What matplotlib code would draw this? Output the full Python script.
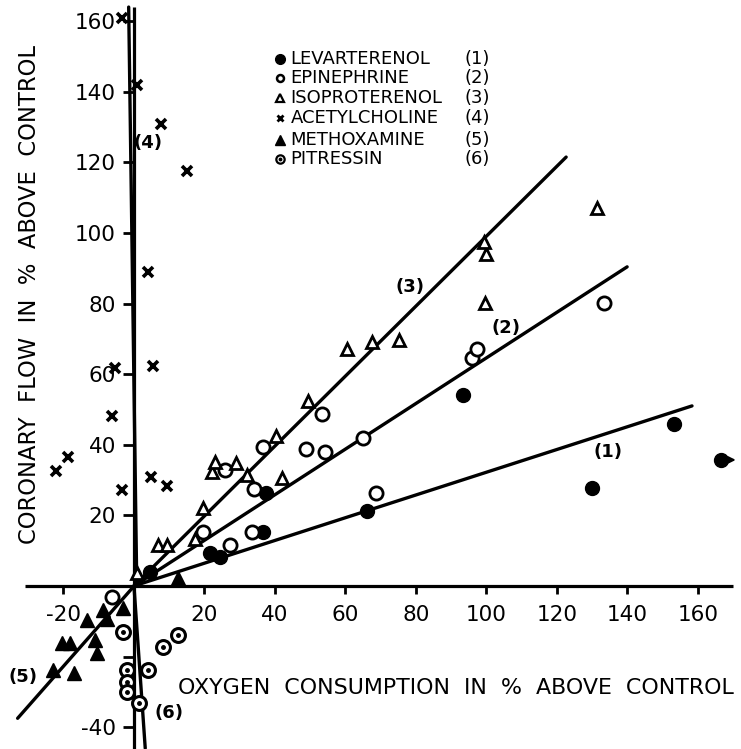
import matplotlib
matplotlib.use("Agg")
import matplotlib.pyplot as plt

# Oxygen consumption (x) vs coronary flow (y), both in % above control
levarterenol_x = [4.5, 21.6, 24.4, 36.6, 37.5, 66.1, 93.2, 129.9, 153.2, 166.5]
levarterenol_y = [4.0, 9.3, 8.2, 15.4, 26.3, 21.2, 54.1, 27.8, 45.9, 35.7]

epinephrine_x = [-6.2, 19.6, 27.2, 33.5, 34.0, 25.8, 36.6, 48.8, 54.2, 53.3, 65.0, 68.7, 96.0, 97.3, 133.3]
epinephrine_y = [-3.1, 15.3, 11.6, 15.3, 27.5, 32.9, 39.4, 38.8, 38.0, 48.7, 41.9, 26.3, 64.6, 67.1, 80.2]

isoproterenol_x = [0.8, 6.8, 9.4, 17.3, 19.6, 22.1, 23.0, 28.9, 32.1, 40.3, 42.1, 49.4,
                   60.4, 67.5, 75.2, 99.6, 99.9, 99.3, 131.3]
isoproterenol_y = [3.7, 11.6, 11.6, 13.3, 22.1, 32.3, 35.1, 34.8, 31.4, 42.6, 30.7, 52.4,
                   67.1, 69.1, 69.7, 80.2, 94.0, 97.5, 107.1]

acetylcholine_x = [-3.4, 0.9, 7.7, 15.0, 4.0, 5.4, -5.4, -6.2, -18.7, -22.1, 4.7, 9.3, -3.4]
acetylcholine_y = [160.9, 141.9, 130.9, 117.6, 89.0, 62.3, 61.8, 48.2, 36.5, 32.6, 30.9, 28.3, 27.2]

methoxamine_x = [12.5, -3.1, -8.8, -7.7, -13.3, -20.4, -18.2, -11.1, -10.5, -23.0, -17.0]
methoxamine_y = [2.3, -6.2, -6.8, -9.4, -9.6, -16.1, -16.1, -15.3, -19.0, -23.8, -24.6]

pitressin_x = [-3.1, 12.5, 8.2, 4.0, -2.0, -2.0, -2.0, 1.5]
pitressin_y = [-13.0, -13.9, -17.3, -23.8, -23.8, -27.2, -30.0, -33.3]

# Fitted lines: (x0, y0, x1, y1) for curves (1)..(6)
fit_lines = {
    "(1)": (0.0, 0.0, 158.3, 51.0),
    "(2)": (0.0, 0.0, 139.9, 90.4),
    "(3)": (0.0, 0.0, 122.6, 121.5),
    "(4)": (0.8, 0.0, -1.5, 164.0),
    "(5)": (0.5, 0.5, -33.0, -37.5),
    "(6)": (0.0, 0.0, 3.2, -46.0),
}
curve_label_pos = {
    "(1)": (134.5, 38.0),
    "(2)": (105.5, 73.1),
    "(3)": (78.3, 84.7),
    "(4)": (3.9, 125.5),
    "(5)": (-31.5, -25.8),
    "(6)": (9.8, -36.0),
}

x_ticks = [-20, 20, 40, 60, 80, 100, 120, 140, 160]
y_ticks = [-40, -20, 20, 40, 60, 80, 100, 120, 140, 160]
y_tick_labels = ["-40", "", "20", "40", "60", "80", "100", "120", "140", "160"]
x_tick_labels = ["-20", "20", "40", "60", "80", "100", "120", "140", "160"]

legend_names = ["LEVARTERENOL", "EPINEPHRINE", "ISOPROTERENOL", "ACETYLCHOLINE",
                "METHOXAMINE", "PITRESSIN"]
legend_nums = ["(1)", "(2)", "(3)", "(4)", "(5)", "(6)"]

fig = plt.figure(figsize=(7.41, 7.49), dpi=100)
ax = fig.add_axes([0, 0, 1, 1])
ax.set_xlim(-38.0, 172.2)
ax.set_ylim(-46.2, 166.0)

for side in ["top", "right"]:
    ax.spines[side].set_visible(False)
ax.spines["left"].set_position(("data", 0))
ax.spines["bottom"].set_position(("data", 0))
ax.spines["left"].set_bounds(-46.2, 164)
ax.spines["bottom"].set_bounds(-31, 170)
for side in ["left", "bottom"]:
    ax.spines[side].set_linewidth(2.3)
    ax.spines[side].set_capstyle("butt")

ax.set_xticks(x_ticks)
ax.set_xticklabels(x_tick_labels)
ax.set_yticks(y_ticks)
ax.set_yticklabels(y_tick_labels)
ax.tick_params(axis="x", direction="out", length=6, width=2, pad=8, labelsize=15.5)
ax.tick_params(axis="y", direction="out", length=8, width=2, pad=5, labelsize=15.5)

# fitted lines
for key, (x0, y0, x1, y1) in fit_lines.items():
    ax.plot([x0, x1], [y0, y1], color="black", lw=2.4, solid_capstyle="round", zorder=2)
for key, (lx, ly) in curve_label_pos.items():
    ax.text(lx, ly, key, fontsize=13, fontweight="bold", ha="center", va="center")

# data points
ax.plot(levarterenol_x, levarterenol_y, "o", ms=10, mfc="black", mec="black", ls="none", zorder=4)
ax.plot(epinephrine_x, epinephrine_y, "o", ms=9.5, mfc="white", mec="black", mew=2, ls="none", zorder=4)
ax.plot(isoproterenol_x, isoproterenol_y, "^", ms=8, mfc="white", mec="black", mew=2, ls="none", zorder=4)
ax.plot(acetylcholine_x, acetylcholine_y, "x", ms=7.5, mec="black", mew=2.6, ls="none", zorder=4)
ax.plot(methoxamine_x, methoxamine_y, "^", ms=10, mfc="black", mec="black", ls="none", zorder=4)
ax.plot(pitressin_x, pitressin_y, "o", ms=10, mfc="white", mec="black", mew=2.2, ls="none", zorder=4)
ax.plot(pitressin_x, pitressin_y, "o", ms=2.5, mfc="black", mec="black", ls="none", zorder=5)

# off-scale levarterenol point
ax.annotate("", xy=(levarterenol_x[-1] + 5.0, levarterenol_y[-1]),
            xytext=(levarterenol_x[-1], levarterenol_y[-1]),
            arrowprops=dict(arrowstyle="-|>", color="black", lw=1.5, mutation_scale=10))

# legend block
leg_marker_x, leg_text_x, leg_num_x = 41.4, 44.4, 97.5
leg_rows_y = [149.3, 143.9, 138.2, 132.6, 126.3, 121.0]
leg_styles = [
    dict(marker="o", ms=7, mfc="black", mec="black"),
    dict(marker="o", ms=5, mfc="white", mec="black", mew=1.8),
    dict(marker="^", ms=5.5, mfc="white", mec="black", mew=1.6),
    dict(marker="x", ms=5, mec="black", mew=2),
    dict(marker="^", ms=6.5, mfc="black", mec="black"),
    dict(marker="o", ms=6, mfc="white", mec="black", mew=1.6),
]
for yy, name, num, st in zip(leg_rows_y, legend_names, legend_nums, leg_styles):
    ax.plot([leg_marker_x], [yy], ls="none", **st)
    ax.text(leg_text_x, yy, name, fontsize=13, ha="left", va="center")
    ax.text(leg_num_x, yy, num, fontsize=13, ha="center", va="center")
ax.plot([leg_marker_x], [leg_rows_y[-1]], "o", ms=1.8, mfc="black", mec="black")

# axis titles
ax.text(-29.5, 82.5, "CORONARY  FLOW  IN  %  ABOVE  CONTROL", rotation=90,
        fontsize=16.3, ha="center", va="center")
ax.text(91.3, -28.9, "OXYGEN  CONSUMPTION  IN  %  ABOVE  CONTROL",
        fontsize=15.9, ha="center", va="center")

fig.savefig("out.png", dpi=100)
